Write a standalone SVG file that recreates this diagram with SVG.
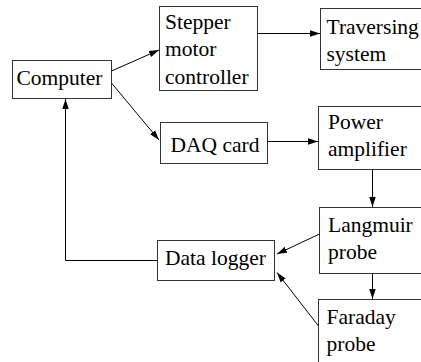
<svg xmlns="http://www.w3.org/2000/svg" width="421" height="362" viewBox="0 0 421 362">
<defs>
<marker id="ah" markerWidth="10" markerHeight="8" refX="10" refY="4" orient="auto" markerUnits="userSpaceOnUse">
<path d="M0,0.8 L10,4 L0,7.2 Z" fill="#000"/>
</marker>
</defs>
<style>
.box{fill:#fff;stroke:#333;stroke-width:1}
text{font-family:'Times New Roman','Liberation Serif','DejaVu Serif',serif;font-size:21.5px;fill:#000}
.c{fill:none;stroke:#000;stroke-width:1;marker-end:url(#ah)}
</style>
<rect width="421" height="362" fill="#fff"/>
<g id="computer"><rect class="box" x="12.5" y="60.5" width="99" height="38"/><text x="16.5" y="85">Computer</text></g>
<g id="stepper"><rect class="box" x="159.5" y="6.5" width="98" height="84"/><text x="165" y="28.5">Stepper</text><text x="165" y="56">motor</text><text x="165" y="83.5">controller</text></g>
<g id="traversing"><rect class="box" x="320.5" y="8.5" width="110" height="61"/><text x="326.5" y="33.5">Traversing</text><text x="326.5" y="60.5">system</text></g>
<g id="daq"><rect class="box" x="160.5" y="122.5" width="107" height="41"/><text x="170.5" y="151.5">DAQ card</text></g>
<g id="power"><rect class="box" x="318.5" y="106.5" width="110" height="63"/><text x="328" y="128.5">Power</text><text x="328" y="155.5">amplifier</text></g>
<g id="langmuir"><rect class="box" x="319.5" y="207.5" width="110" height="66"/><text x="328" y="231.5">Langmuir</text><text x="328" y="258.5">probe</text></g>
<g id="faraday"><rect class="box" x="318.5" y="299.5" width="110" height="70"/><text x="326.5" y="323.5">Faraday</text><text x="326.5" y="350.5">probe</text></g>
<g id="datalogger"><rect class="box" x="157.5" y="240.5" width="117" height="40"/><text x="165" y="265">Data logger</text></g>
<g id="connectors">
<line class="c" x1="111.5" y1="71" x2="159" y2="50"/>
<line class="c" x1="111.5" y1="83" x2="159" y2="140"/>
<line class="c" x1="257.5" y1="33.5" x2="320" y2="33.5"/>
<line class="c" x1="267.5" y1="141.5" x2="318" y2="141.5"/>
<line class="c" x1="372.5" y1="169.5" x2="372.5" y2="207"/>
<line class="c" x1="372.5" y1="273.5" x2="372.5" y2="299"/>
<line class="c" x1="319.5" y1="234" x2="277" y2="254"/>
<line class="c" x1="318.5" y1="326" x2="277" y2="272.5"/>
<path class="c" d="M157.5,260.5 H65.5 V99"/>
</g>
</svg>
